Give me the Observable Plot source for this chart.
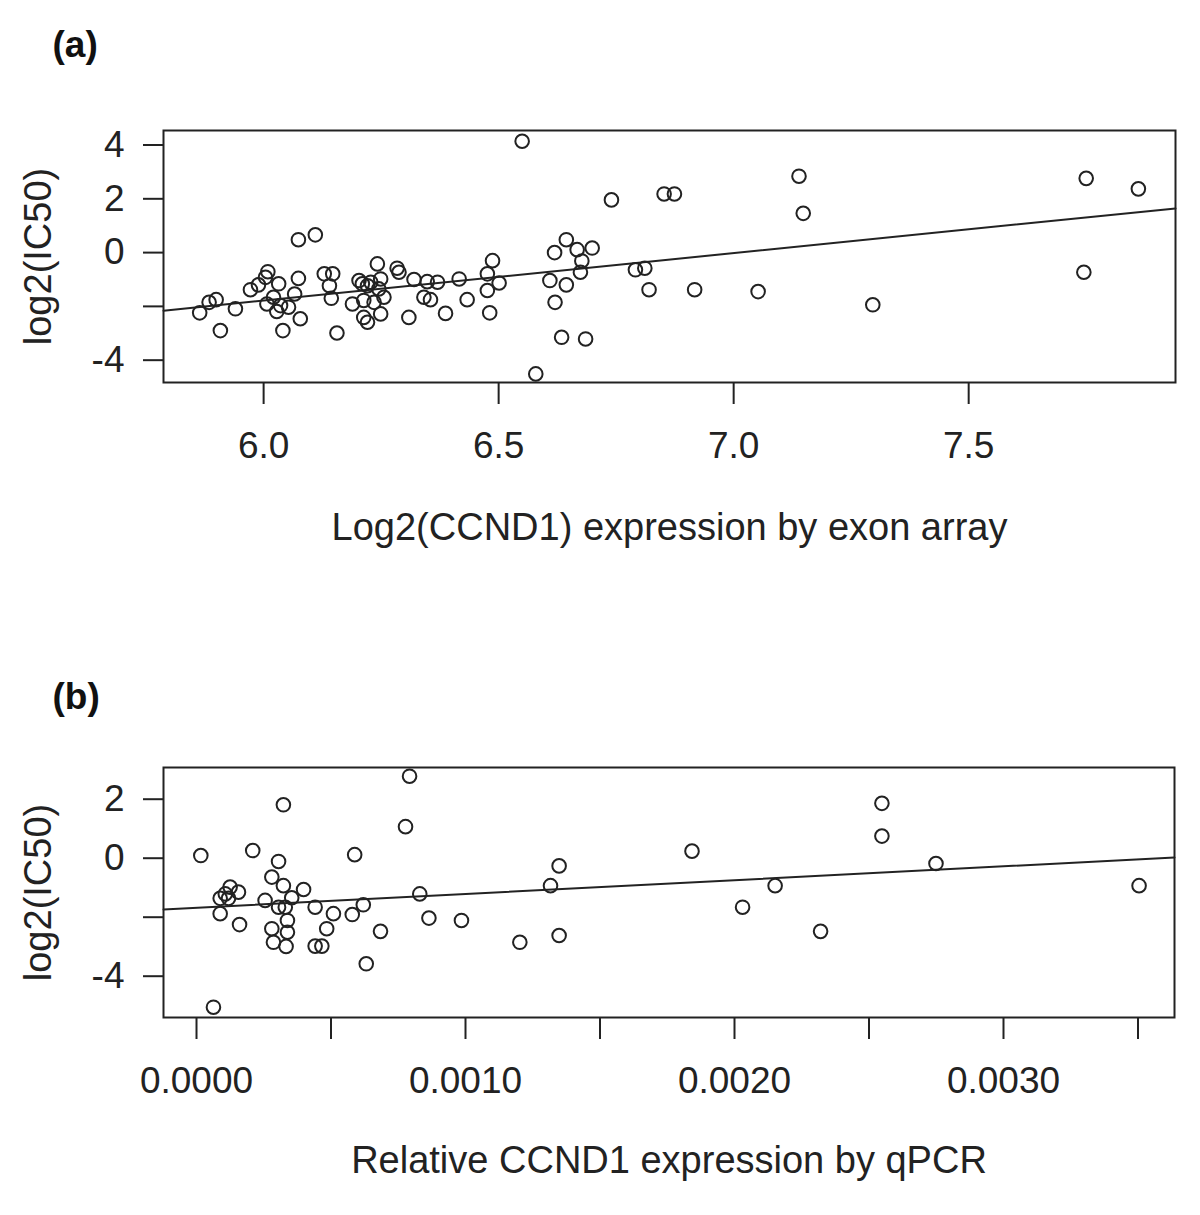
<!DOCTYPE html>
<html>
<head>
<meta charset="utf-8">
<script src="https://cdn.jsdelivr.net/npm/d3@7"></script>
<script src="https://cdn.jsdelivr.net/npm/@observablehq/plot@0.6"></script>
<style>
  html, body { margin: 0; padding: 0; background: #fff; }
  #wrap { width: 1200px; height: 1215px; overflow: hidden; }
  #wrap svg { display: block; }
</style>
</head>
<body>
<div id="wrap"></div>
<script>
// ---------- Panel (a): exon array ----------
const aX = [5.864, 5.884, 5.899, 5.908, 5.940, 5.972, 5.989, 6.004, 6.009, 6.032,
            6.007, 6.021, 6.028, 6.036, 6.053, 6.041, 6.066, 6.074, 6.078, 6.074,
            6.110, 6.129, 6.147, 6.140, 6.144, 6.156,
            6.242, 6.284, 6.288, 6.249, 6.203, 6.210, 6.221, 6.228, 6.245, 6.189,
            6.213, 6.235, 6.256, 6.249, 6.213, 6.221, 6.309, 6.320, 6.348, 6.370,
            6.341, 6.355, 6.387, 6.416, 6.433, 6.487, 6.476, 6.501, 6.476, 6.481,
            6.550, 6.740, 6.852, 6.874, 6.644, 6.619, 6.667, 6.699, 6.677, 6.674,
            6.609, 6.644, 6.620, 6.791, 6.811, 6.820, 6.917, 6.634, 6.685, 6.579,
            7.139, 7.148, 7.052, 7.296, 7.750, 7.861, 7.745];
const aY = [-2.24, -1.85, -1.75, -2.90, -2.09, -1.38, -1.20, -0.92, -0.71, -1.16,
            -1.91, -1.66, -2.19, -1.97, -2.03, -2.90, -1.54, -0.96, -2.46, 0.48,
            0.66, -0.79, -0.79, -1.23, -1.70, -2.99,
            -0.42, -0.58, -0.73, -0.98, -1.04, -1.16, -1.23, -1.10, -1.35, -1.91,
            -1.78, -1.85, -1.66, -2.28, -2.41, -2.59, -2.41, -1.00, -1.08, -1.10,
            -1.66, -1.75, -2.26, -0.98, -1.75, -0.30, -0.79, -1.13, -1.41, -2.24,
            4.14, 1.96, 2.18, 2.18, 0.48, 0.00, 0.11, 0.17, -0.31, -0.73,
            -1.04, -1.20, -1.85, -0.64, -0.58, -1.38, -1.38, -3.15, -3.21, -4.51,
            2.84, 1.46, -1.45, -1.94, 2.76, 2.37, -0.73];
const aFit = {intercept: -12.38, slope: 1.766};
const aXDomain = [5.787, 7.940];
const aYDomain = [-4.83, 4.54];
const aXTicks = [6.0, 6.5, 7.0, 7.5];
const aXTickLabels = ["6.0", "6.5", "7.0", "7.5"];
const aYTicks = [4, 2, 0, -2, -4];
const aYTickLabels = ["4", "2", "0", "", "-4"];
const aTitleX = "Log2(CCND1) expression by exon array";
const titleY = "log2(IC50)";

// ---------- Panel (b): qPCR ----------
const bX = [0.000323, 0.000016, 0.000209, 0.000305, 0.000280, 0.000323, 0.000398, 0.000125, 0.000156, 0.000107,
            0.000088, 0.000119, 0.000255, 0.000354, 0.000305, 0.000330, 0.000441, 0.000509, 0.000088, 0.000338,
            0.000160, 0.000280, 0.000338, 0.000484, 0.000286, 0.000333, 0.000441, 0.000466, 0.000063,
            0.000792, 0.000777, 0.000588, 0.001348, 0.001316, 0.000830, 0.000620, 0.000579, 0.000864, 0.000985,
            0.000684, 0.001202, 0.001348, 0.000631,
            0.001842, 0.002030, 0.002151, 0.002320, 0.002548, 0.002548, 0.002749, 0.003504];
const bY = [1.81, 0.09, 0.26, -0.11, -0.64, -0.93, -1.06, -0.98, -1.15, -1.21,
            -1.36, -1.36, -1.43, -1.34, -1.66, -1.66, -1.66, -1.88, -1.88, -2.11,
            -2.25, -2.39, -2.51, -2.39, -2.85, -2.99, -2.98, -2.98, -5.05,
            2.78, 1.07, 0.12, -0.26, -0.93, -1.21, -1.58, -1.91, -2.03, -2.11,
            -2.48, -2.85, -2.62, -3.58,
            0.24, -1.66, -0.93, -2.48, 1.86, 0.75, -0.18, -0.93];
const bFit = {intercept: -1.681, slope: 468.6};
const bXDomain = [-0.0001227, 0.0036357];
const bYDomain = [-5.40, 3.075];
const bXTicks = [0, 0.0005, 0.001, 0.0015, 0.002, 0.0025, 0.003, 0.0035];
const bXTickLabels = ["0.0000", "", "0.0010", "", "0.0020", "", "0.0030", ""];
const bYTicks = [2, 0, -2, -4];
const bYTickLabels = ["2", "0", "", "-4"];
const bTitleX = "Relative CCND1 expression by qPCR";

// ---------- helpers ----------
const INK = "#222";
const FONT = "'Liberation Sans', Arial, Helvetica, sans-serif";
const lookup = (ticks, labels) => d => {
  const i = ticks.findIndex(t => Math.abs(t - d) < 1e-9);
  return i >= 0 ? labels[i] : "";
};

function panel({xs, ys, fit, xDomain, yDomain, xTicks, xTickLabels, yTicks, yTickLabels,
                titleX, tag, height, marginTop, marginBottom, marginRight, tagDy, titleDy}) {
  const pts = xs.map((x, i) => ({x, y: ys[i]}));
  const line = xDomain.map(x => ({x, y: fit.intercept + fit.slope * x}));
  return Plot.plot({
    width: 1200,
    height,
    marginTop,
    marginBottom,
    marginLeft: 163,
    marginRight,
    x: {domain: xDomain},
    y: {domain: yDomain},
    style: {fontFamily: FONT, fontSize: "36px", color: INK, background: "#fff", overflow: "visible"},
    marks: [
      Plot.frame({stroke: INK, strokeWidth: 2}),
      Plot.axisX({ticks: xTicks, tickFormat: lookup(xTicks, xTickLabels), tickSize: 22, tickPadding: 27,
                  strokeWidth: 2, stroke: INK, fontSize: 37, label: null}),
      Plot.axisY({ticks: yTicks, tickFormat: lookup(yTicks, yTickLabels), tickSize: 20, tickPadding: 19,
                  strokeWidth: 2, stroke: INK, fontSize: 37, label: null}),
      Plot.line(line, {x: "x", y: "y", stroke: INK, strokeWidth: 2}),
      Plot.dot(pts, {x: "x", y: "y", r: 6.8, stroke: INK, strokeWidth: 2, fill: "none"}),
      Plot.text([titleX], {text: d => d, frameAnchor: "bottom", dy: titleDy, textAnchor: "middle",
                           lineAnchor: "middle", fontSize: 38, fill: INK}),
      Plot.text([titleY], {text: d => d, frameAnchor: "left", dx: -125, rotate: -90, textAnchor: "middle",
                           lineAnchor: "middle", fontSize: 38, fill: INK}),
      Plot.text([tag], {text: d => d, frameAnchor: "top-left", dx: -111, dy: tagDy, textAnchor: "start",
                        lineAnchor: "middle", fontSize: 37, fontWeight: "bold", fill: "#111"})
    ]
  });
}

const wrap = document.getElementById("wrap");
wrap.append(panel({
  xs: aX, ys: aY, fit: aFit, xDomain: aXDomain, yDomain: aYDomain,
  xTicks: aXTicks, xTickLabels: aXTickLabels, yTicks: aYTicks, yTickLabels: aYTickLabels,
  titleX: aTitleX, tag: "(a)", height: 600, marginTop: 130, marginBottom: 218, marginRight: 25,
  tagDy: -85, titleDy: 145
}));
wrap.append(panel({
  xs: bX, ys: bY, fit: bFit, xDomain: bXDomain, yDomain: bYDomain,
  xTicks: bXTicks, xTickLabels: bXTickLabels, yTicks: bYTicks, yTickLabels: bYTickLabels,
  titleX: bTitleX, tag: "(b)", height: 615, marginTop: 167, marginBottom: 198, marginRight: 26,
  tagDy: -70, titleDy: 143
}));
</script>
</body>
</html>
